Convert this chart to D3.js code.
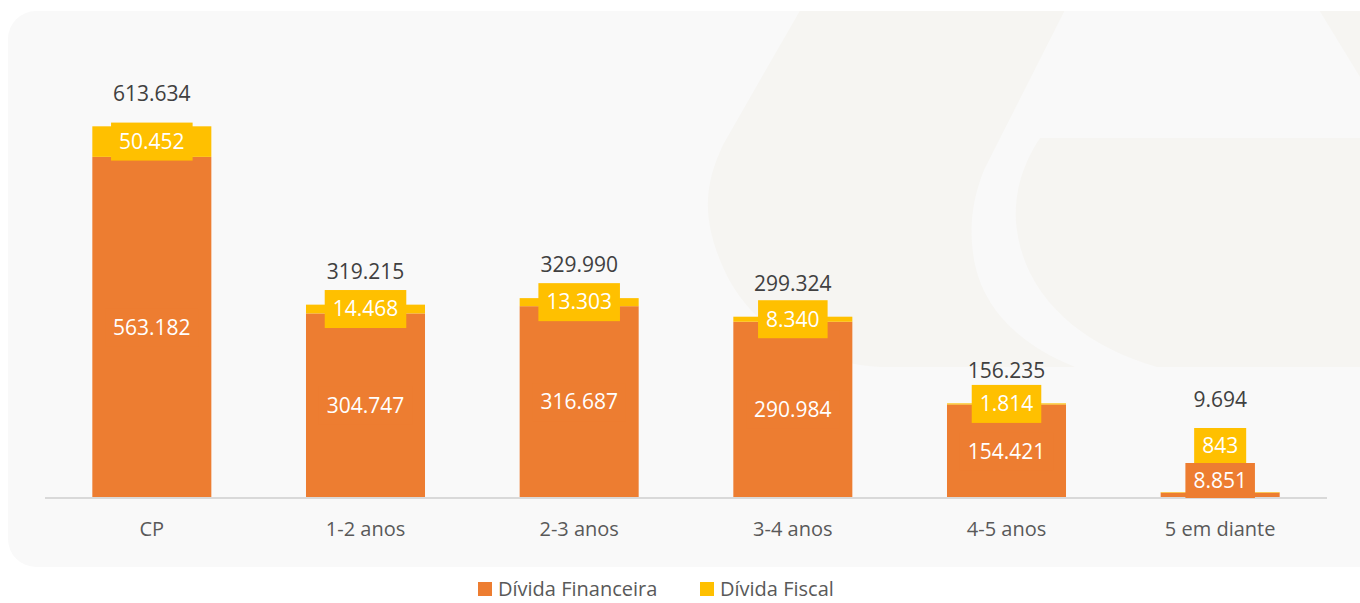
<!DOCTYPE html>
<html>
<head>
<meta charset="utf-8">
<script src="https://cdnjs.cloudflare.com/ajax/libs/d3/7.8.5/d3.min.js"></script>
<style>
  html, body { margin: 0; padding: 0; background: #ffffff; }
  svg { display: block; font-family: "Open Sans", sans-serif; }
</style>
</head>
<body>
<svg width="1360" height="603"></svg>
<script>
var categories = ["CP", "1-2 anos", "2-3 anos", "3-4 anos", "4-5 anos", "5 em diante"];
var financeira = [563182, 304747, 316687, 290984, 154421, 8851];
var fiscal = [50452, 14468, 13303, 8340, 1814, 843];
var seriesNames = ["Dívida Financeira", "Dívida Fiscal"];
var seriesColors = ["#ED7D31", "#FFC000"];

var svg = d3.select("svg"),
    baseline = 498,
    boxH = 38,
    boxSmall = 35;

var locale = d3.formatLocale({decimal: ",", thousands: ".", grouping: [3], currency: ["R$", ""]});
var fmt = locale.format(",d");

// painel de fundo
svg.append("defs").append("clipPath").attr("id", "panel")
    .append("rect").attr("x", 8).attr("y", 11).attr("width", 1380).attr("height", 556).attr("rx", 28);

svg.append("rect")
    .attr("x", 8).attr("y", 11).attr("width", 1380).attr("height", 556).attr("rx", 28)
    .attr("fill", "#f9f9f9");

// marca d'agua
var wm = svg.append("g").attr("clip-path", "url(#panel)").attr("fill", "#f6f5f2");
wm.append("path").attr("d", "M806,0 L1070,0 L984,170 C972,200 968,230 975,265 C985,310 1020,345 1075,367 L880,367 C800,362 745,320 722,265 C702,218 704,185 723,145 Z");
wm.append("path").attr("d", "M1040,138 L1360,138 L1360,367 L1157,367 C1080,345 1022,295 1016,222 C1014,190 1024,162 1040,138 Z");
wm.append("path").attr("d", "M1313,0 L1360,0 L1360,77 Z");

var x = d3.scaleBand()
    .domain(categories)
    .range([45, 1327])
    .paddingInner(0.443)
    .paddingOuter(0.2215);

var y = d3.scaleLinear()
    .domain([0, 700000])
    .range([baseline, 74]);

var data = categories.map(function (c, i) {
    return {cat: c, fin: financeira[i], fis: fiscal[i], total: financeira[i] + fiscal[i]};
});

var g = svg.append("g");

// barras
g.selectAll(".fin").data(data).enter().append("rect")
    .attr("x", function (d) { return x(d.cat); })
    .attr("width", x.bandwidth())
    .attr("y", function (d) { return y(d.fin); })
    .attr("height", function (d) { return y(0) - y(d.fin); })
    .attr("fill", seriesColors[0]);

g.selectAll(".fis").data(data).enter().append("rect")
    .attr("x", function (d) { return x(d.cat); })
    .attr("width", x.bandwidth())
    .attr("y", function (d) { return y(d.total); })
    .attr("height", function (d) { return y(d.fin) - y(d.total); })
    .attr("fill", seriesColors[1]);

// eixo
var axis = svg.append("g")
    .attr("transform", "translate(0," + baseline + ")")
    .call(d3.axisBottom(x).tickSize(0).tickPadding(24));
axis.select(".domain").attr("stroke", "#d9d9d9").attr("stroke-width", 2).attr("d", "M45,0H1327");
axis.selectAll("text")
    .attr("font-family", "Open Sans, sans-serif")
    .attr("font-size", 20)
    .attr("fill", "#595959");

// rotulos com caixa
function boxLabel(sel, cx, cy, txt, fill, h) {
    var t = sel.append("text")
        .attr("x", cx).attr("y", cy).attr("dy", "0.35em")
        .attr("text-anchor", "middle")
        .attr("font-size", 21)
        .attr("fill", "#ffffff")
        .text(txt);
    var w = t.node().getComputedTextLength() + 16;
    sel.insert("rect", function () { return t.node(); })
        .attr("x", cx - w / 2).attr("y", cy - h / 2)
        .attr("width", w).attr("height", h)
        .attr("fill", fill);
}

var labels = svg.append("g");
data.forEach(function (d) {
    var cx = x(d.cat) + x.bandwidth() / 2;
    var finH = boxH, fisH = boxH;
    var finY = (y(0) + y(d.fin)) / 2;
    if (finY + boxH / 2 > baseline) { finH = boxSmall; finY = baseline - finH / 2; }
    var fisY = (y(d.fin) + y(d.total)) / 2;
    if (fisY + boxH / 2 > finY - finH / 2) { fisH = boxSmall; fisY = finY - finH / 2 - fisH / 2; }
    var totY = y(d.total) - 33;
    if (totY + 12 > fisY - fisH / 2) totY = fisY - fisH / 2 - 28;

    boxLabel(labels.append("g"), cx, finY, fmt(d.fin), seriesColors[0], finH);
    boxLabel(labels.append("g"), cx, fisY, fmt(d.fis), seriesColors[1], fisH);
    labels.append("text")
        .attr("x", cx).attr("y", totY).attr("dy", "0.35em")
        .attr("text-anchor", "middle")
        .attr("font-size", 21)
        .attr("fill", "#404040")
        .text(fmt(d.total));
});

// legenda
var legendX = [478, 700];
var legend = svg.append("g");
seriesNames.forEach(function (name, i) {
    legend.append("rect")
        .attr("x", legendX[i]).attr("y", 582)
        .attr("width", 14).attr("height", 14)
        .attr("fill", seriesColors[i]);
    legend.append("text")
        .attr("x", legendX[i] + 20).attr("y", 589).attr("dy", "0.35em")
        .attr("font-size", 20)
        .attr("fill", "#595959")
        .text(name);
});
</script>
</body>
</html>
